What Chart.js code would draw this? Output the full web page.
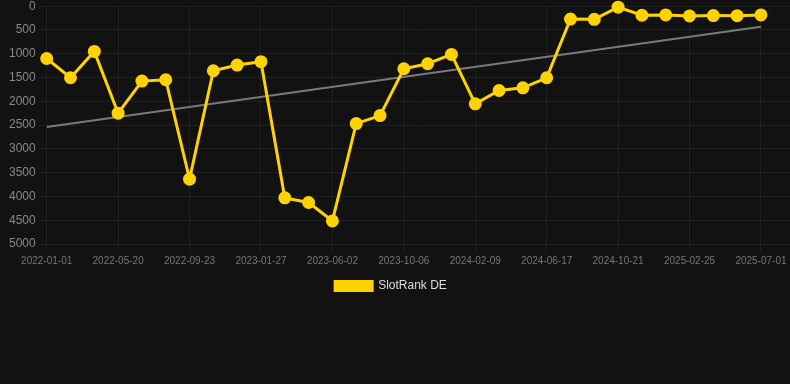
<!DOCTYPE html>
<html>
<head>
<meta charset="utf-8">
<script src="https://cdn.jsdelivr.net/npm/chart.js@4"></script>
<style>
  html, body { margin: 0; padding: 0; background: #121212; overflow: hidden; }
  #wrap { width: 798px; height: 306px; position: relative; margin-top: -4px; }
</style>
</head>
<body>
<div id="wrap"><canvas id="c"></canvas></div>
<script>
const dates = ["2022-01-01","2022-02-16","2022-04-03","2022-05-20","2022-07-01","2022-08-12","2022-09-23","2022-11-03","2022-12-16","2023-01-27","2023-03-10","2023-04-21","2023-06-02","2023-07-14","2023-08-25","2023-10-06","2023-11-17","2023-12-29","2024-02-09","2024-03-22","2024-05-03","2024-06-17","2024-07-29","2024-09-09","2024-10-21","2024-12-02","2025-01-13","2025-02-25","2025-04-08","2025-05-20","2025-07-01"];
const rankDE = [1100,1505,950,2250,1575,1547,3636,1357,1238,1167,4030,4128,4515,2468,2300,1315,1210,1013,2053,1772,1716,1505,270,275,20,190,183,204,197,200,183];
const trendStart = 2540;
const trendEnd = 432;
const yTicks = [0,500,1000,1500,2000,2500,3000,3500,4000,4500,5000];

const n = rankDE.length;
const mainPts = rankDE.map((v,i)=>({x:i,y:v}));
const trendPts = [{x:0,y:trendStart},{x:n-1,y:trendEnd}];

const legendShift = {
  id: 'legendShift',
  afterLayout(chart) {
    if (chart.legend) { chart.legend.left = 0; chart.legend.right = 782; }
  }
};

new Chart(document.getElementById('c'), {
  type: 'line',
  data: {
    datasets: [
      { label: 'SlotRank DE', data: mainPts, borderColor: '#FFD300', backgroundColor: '#FFD300',
        borderWidth: 3, pointRadius: 5, pointBackgroundColor: '#FFD300', pointBorderColor: '#FFD300', tension: 0, order: 1, clip: false },
      { label: 'trend', data: trendPts, borderColor: 'rgba(140,140,140,0.85)', borderWidth: 2,
        pointRadius: 0, tension: 0, order: 2 }
    ]
  },
  plugins: [legendShift],
  options: {
    responsive: true, maintainAspectRatio: false, animation: false,
    layout: { padding: { left: 6, right: 0, top: 0, bottom: 0 } },
    plugins: {
      legend: { position: 'bottom',
        labels: { color: '#dddddd', font: { family: 'Arial, Liberation Sans', size: 12 }, boxWidth: 37, boxHeight: 9,
          filter: item => item.text !== 'trend' } },
      tooltip: { enabled: false }
    },
    scales: {
      x: { type: 'linear', min: 0, max: n - 1 + 1.22,
        afterBuildTicks: axis => { axis.ticks = dates.map((d,i)=>({value:i})).filter(t => t.value % 3 === 0); },
        ticks: { color: '#777777', font: { family: 'Arial, Liberation Sans', size: 10 }, maxRotation: 0, autoSkip: false,
          callback: v => dates[v] },
        grid: { color: 'rgba(255,255,255,0.05)', drawTicks: true },
        border: { display: false }
      },
      y: { reverse: true, min: 0, max: 5000,
        afterBuildTicks: axis => { axis.ticks = yTicks.map(v=>({value:v})); },
        ticks: { color: '#888888', font: { family: 'Arial, Liberation Sans', size: 12 }, callback: v => String(v) },
        grid: { color: 'rgba(255,255,255,0.06)' },
        border: { display: false }
      }
    }
  }
});
</script>
</body>
</html>
